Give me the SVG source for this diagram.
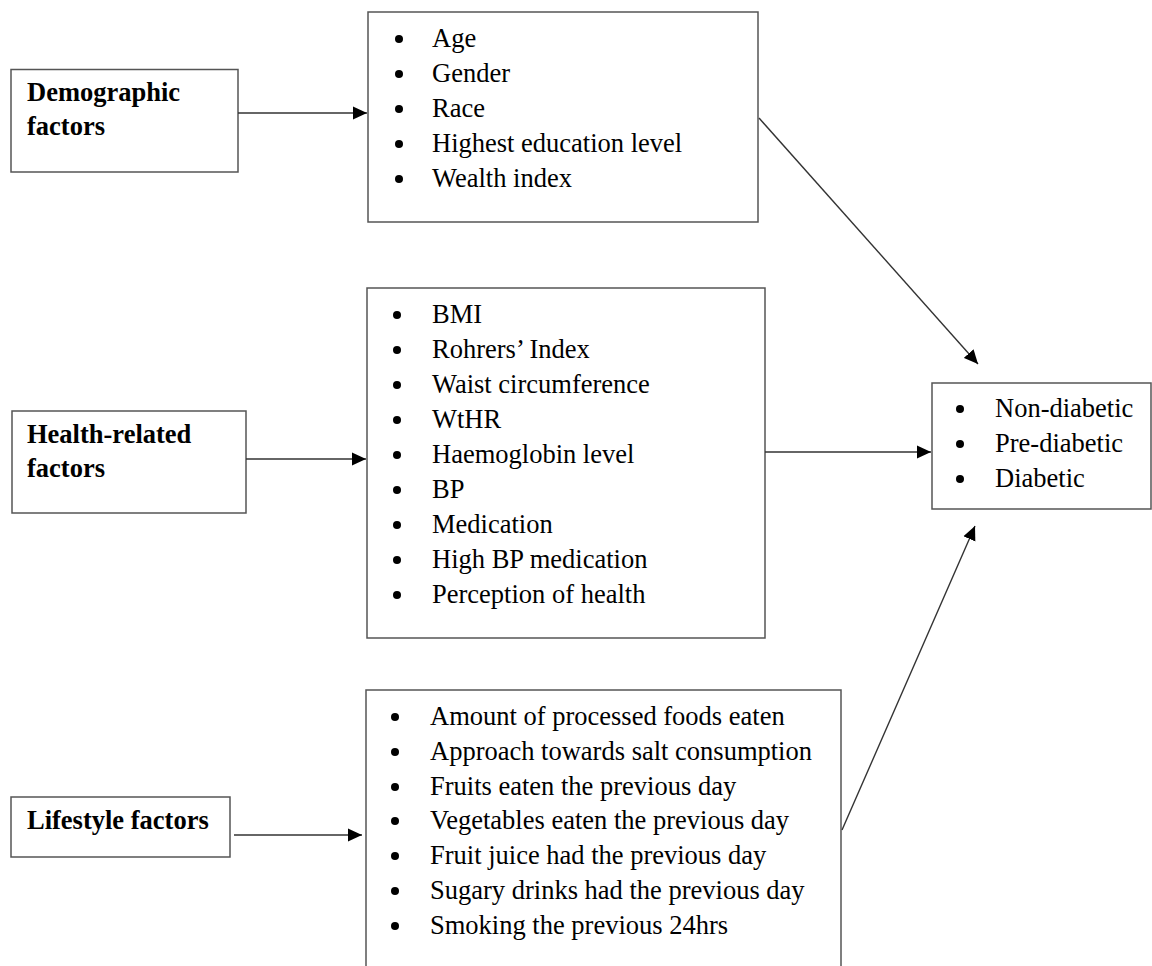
<svg xmlns="http://www.w3.org/2000/svg" width="1152" height="966" viewBox="0 0 1152 966">
  <style>
    .box { fill: #ffffff; stroke: #555555; stroke-width: 1.5; }
    .lbl { font-family: "Liberation Serif", "Times New Roman", serif; font-size: 26.5px; font-weight: bold; fill: #000; }
    .item { font-family: "Liberation Serif", "Times New Roman", serif; font-size: 26.5px; fill: #000; }
    .dot { fill: #000; }
    .conn { stroke: #333333; stroke-width: 1.4; fill: none; marker-end: url(#arrow); }
  </style>
  <defs>
    <marker id="arrow" markerUnits="userSpaceOnUse" markerWidth="15" markerHeight="14" refX="14" refY="7" orient="auto">
      <path d="M0,0.5 L14,7 L0,13.5 z" fill="#000"/>
    </marker>
  </defs>
  <rect width="1152" height="966" fill="#ffffff"/>

  <g id="demographic-factors">
    <rect class="box" x="11" y="69.5" width="227" height="102.5"/>
    <text class="lbl" x="27" y="101">Demographic</text>
    <text class="lbl" x="27" y="135">factors</text>
  </g>

  <g id="demographic-list">
    <rect class="box" x="368" y="12" width="390" height="210"/>
    <circle class="dot" cx="399" cy="39" r="4"/>
    <circle class="dot" cx="399" cy="74" r="4"/>
    <circle class="dot" cx="399" cy="109" r="4"/>
    <circle class="dot" cx="399" cy="144" r="4"/>
    <circle class="dot" cx="399" cy="179" r="4"/>
    <text class="item" x="432" y="47">Age</text>
    <text class="item" x="432" y="82">Gender</text>
    <text class="item" x="432" y="117">Race</text>
    <text class="item" x="432" y="152">Highest education level</text>
    <text class="item" x="432" y="187">Wealth index</text>
  </g>

  <g id="health-factors">
    <rect class="box" x="12" y="411" width="234" height="102"/>
    <text class="lbl" x="27" y="443">Health-related</text>
    <text class="lbl" x="27" y="477">factors</text>
  </g>

  <g id="health-list">
    <rect class="box" x="367" y="288" width="398" height="350"/>
    <circle class="dot" cx="397" cy="315" r="4"/>
    <circle class="dot" cx="397" cy="350" r="4"/>
    <circle class="dot" cx="397" cy="385" r="4"/>
    <circle class="dot" cx="397" cy="420" r="4"/>
    <circle class="dot" cx="397" cy="455" r="4"/>
    <circle class="dot" cx="397" cy="490" r="4"/>
    <circle class="dot" cx="397" cy="525" r="4"/>
    <circle class="dot" cx="397" cy="560" r="4"/>
    <circle class="dot" cx="397" cy="595" r="4"/>
    <text class="item" x="432" y="323">BMI</text>
    <text class="item" x="432" y="358">Rohrers’ Index</text>
    <text class="item" x="432" y="393">Waist circumference</text>
    <text class="item" x="432" y="428">WtHR</text>
    <text class="item" x="432" y="463">Haemoglobin level</text>
    <text class="item" x="432" y="498">BP</text>
    <text class="item" x="432" y="533">Medication</text>
    <text class="item" x="432" y="568">High BP medication</text>
    <text class="item" x="432" y="603">Perception of health</text>
  </g>

  <g id="lifestyle-factors">
    <rect class="box" x="11" y="797" width="219" height="60"/>
    <text class="lbl" x="27" y="829">Lifestyle factors</text>
  </g>

  <g id="lifestyle-list">
    <rect class="box" x="366" y="690" width="475" height="290"/>
    <circle class="dot" cx="395" cy="717" r="4"/>
    <circle class="dot" cx="395" cy="752" r="4"/>
    <circle class="dot" cx="395" cy="787" r="4"/>
    <circle class="dot" cx="395" cy="821" r="4"/>
    <circle class="dot" cx="395" cy="856" r="4"/>
    <circle class="dot" cx="395" cy="891" r="4"/>
    <circle class="dot" cx="395" cy="926" r="4"/>
    <text class="item" x="430" y="725">Amount of processed foods eaten</text>
    <text class="item" x="430" y="760">Approach towards salt consumption</text>
    <text class="item" x="430" y="795">Fruits eaten the previous day</text>
    <text class="item" x="430" y="829">Vegetables eaten the previous day</text>
    <text class="item" x="430" y="864">Fruit juice had the previous day</text>
    <text class="item" x="430" y="899">Sugary drinks had the previous day</text>
    <text class="item" x="430" y="934">Smoking the previous 24hrs</text>
  </g>

  <g id="outcome">
    <rect class="box" x="932" y="383" width="219" height="126"/>
    <circle class="dot" cx="960" cy="409" r="4"/>
    <circle class="dot" cx="960" cy="444" r="4"/>
    <circle class="dot" cx="960" cy="479" r="4"/>
    <text class="item" x="995" y="417">Non-diabetic</text>
    <text class="item" x="995" y="452">Pre-diabetic</text>
    <text class="item" x="995" y="487">Diabetic</text>
  </g>

  <g id="connectors">
    <line class="conn" x1="238" y1="113" x2="367" y2="113"/>
    <line class="conn" x1="246" y1="459" x2="366" y2="459"/>
    <line class="conn" x1="234" y1="835" x2="362" y2="835"/>
    <line class="conn" x1="765" y1="452" x2="931" y2="452"/>
    <line class="conn" x1="759" y1="118" x2="978" y2="364"/>
    <line class="conn" x1="842" y1="830" x2="975" y2="526"/>
  </g>
</svg>
